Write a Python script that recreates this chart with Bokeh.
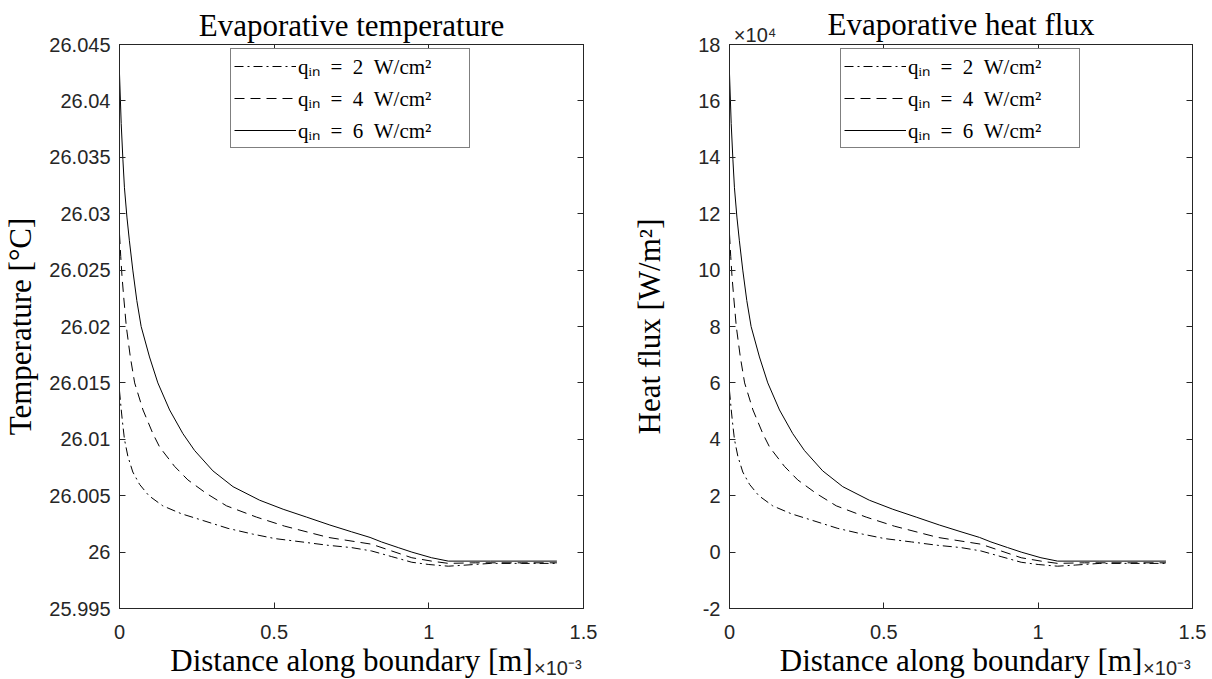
from bokeh.plotting import figure
from bokeh.layouts import row
from bokeh.models import (LinearAxis, FixedTicker, CustomJSTickFormatter, Range1d,
                          Legend, LegendItem)
from bokeh.embed import file_html
from bokeh.resources import INLINE

# ---------------- data (x in units of 1e-3 m) ----------------
series_labels = ["qᵢₙ\u2002=\u20022\u2002W/cm²",
                 "qᵢₙ\u2002=\u20024\u2002W/cm²",
                 "qᵢₙ\u2002=\u20026\u2002W/cm²"]

x_q2 = [0.0, 0.005, 0.009, 0.016, 0.027, 0.043, 0.065, 0.095, 0.14, 0.2, 0.27, 0.351, 0.43,
        0.502, 0.59, 0.675, 0.75, 0.815, 0.88, 0.945, 1.0, 1.063, 1.12, 1.2, 1.3, 1.414]
temp_q2 = [26.0143, 26.0128, 26.0117, 26.0100, 26.0085, 26.0071, 26.0060, 26.0050, 26.0041,
           26.0034, 26.0028, 26.0021, 26.0016, 26.0012, 26.0009, 26.0006, 26.0004, 26.0001,
           25.9996, 25.9991, 25.9989, 25.99875, 25.99885, 25.9990, 25.9990, 25.9990]
flux_q2 = [5.72, 5.12, 4.68, 4.00, 3.40, 2.84, 2.40, 2.00, 1.64, 1.36, 1.12, 0.84, 0.64,
           0.48, 0.36, 0.24, 0.16, 0.04, -0.16, -0.36, -0.44, -0.50, -0.46, -0.40, -0.40,
           -0.40]

x_q4 = [0.0, 0.004, 0.008, 0.013, 0.022, 0.035, 0.049, 0.076, 0.108, 0.130, 0.178, 0.221,
        0.281, 0.346, 0.443, 0.534, 0.675, 0.815, 0.88, 0.945, 1.009, 1.063, 1.15, 1.3, 1.414]
temp_q4 = [26.0282, 26.0262, 26.0245, 26.0228, 26.0200, 26.0173, 26.0150, 26.0126, 26.0105,
           26.0093, 26.0076, 26.0064, 26.0052, 26.0041, 26.0031, 26.0023, 26.0013, 26.0007,
           26.0001, 25.9995, 25.9992, 25.9990, 25.99905, 25.99905, 25.99905]
flux_q4 = [11.28, 10.48, 9.80, 9.12, 8.00, 6.92, 6.00, 5.04, 4.20, 3.72, 3.04, 2.56, 2.08,
           1.64, 1.24, 0.92, 0.52, 0.28, 0.04, -0.20, -0.32, -0.40, -0.38, -0.38, -0.38]

x_q6 = [0.0, 0.0055, 0.011, 0.016, 0.024, 0.032, 0.043, 0.056, 0.070, 0.097, 0.124, 0.162,
        0.205, 0.243, 0.302, 0.367, 0.453, 0.529, 0.605, 0.68, 0.75, 0.81, 0.847, 0.901,
        0.945, 1.009, 1.063, 1.2, 1.414]
temp_q6 = [26.0424, 26.0380, 26.0348, 26.0323, 26.0297, 26.0276, 26.0250, 26.0223, 26.0200,
           26.0173, 26.0150, 26.0126, 26.0105, 26.0090, 26.0072, 26.0058, 26.0046, 26.0038,
           26.0031, 26.0024, 26.0018, 26.0013, 26.0009, 26.0004, 26.0000, 25.9995, 25.9992,
           25.9992, 25.9992]
flux_q6 = [16.96, 15.20, 13.92, 12.92, 11.88, 11.04, 10.00, 8.92, 8.00, 6.92, 6.00, 5.04,
           4.20, 3.60, 2.88, 2.32, 1.84, 1.52, 1.24, 0.96, 0.72, 0.52, 0.36, 0.16, 0.00,
           -0.20, -0.32, -0.32, -0.32]

x_range_vals = (0.0, 1.5)
x_ticks = [0, 0.5, 1, 1.5]
temp_range = (25.995, 26.045)
temp_ticks = [25.995, 26.0, 26.005, 26.01, 26.015, 26.02, 26.025, 26.03, 26.035, 26.04, 26.045]
flux_range = (-2, 18)
flux_ticks = [-2, 0, 2, 4, 6, 8, 10, 12, 14, 16, 18]

x_exponent = "×10⁻³"
flux_exponent = "×10⁴"
x_label = "Distance along boundary [m]"

# ---------------- style ----------------
AX = "#262626"
SERIF = "Liberation Serif"
SANS = "Liberation Sans"
dashes = ["9 4 2 4", "10 6", "solid"]
fmt_code = "return Number(tick.toFixed(3)).toString();"


def style_axis(ax):
    ax.major_tick_in = 6
    ax.major_tick_out = 0
    ax.minor_tick_in = 0
    ax.minor_tick_out = 0
    ax.axis_line_color = AX
    ax.major_tick_line_color = AX
    ax.major_label_text_color = AX
    ax.major_label_text_font = SANS
    ax.major_label_text_font_size = "20px"
    ax.axis_label_text_font = SERIF
    ax.axis_label_text_font_style = "normal"
    ax.axis_label_text_font_size = "31px"
    ax.axis_label_text_color = "black"


def holder_axis(tick_pos, tick_text, label, tick_standoff, label_standoff):
    """An axis with no visible line or marks: carries an exponent note and a label."""
    code = "return %r;" % tick_text
    ax = LinearAxis(ticker=FixedTicker(ticks=tick_pos),
                    formatter=CustomJSTickFormatter(code=code))
    style_axis(ax)
    ax.axis_line_color = None
    ax.major_tick_line_color = None
    ax.minor_tick_line_color = None
    ax.major_tick_in = 0
    ax.major_label_standoff = tick_standoff
    ax.axis_label = label
    ax.axis_label_standoff = label_standoff
    return ax


def make_panel(title, ylabel, yr, yticks, ys, border_l, border_r, frame_w, ylab_standoff,
               exp_top):
    p = figure(frame_width=frame_w, frame_height=564,
               x_range=Range1d(*x_range_vals), y_range=Range1d(*yr),
               output_backend="svg", toolbar_location=None,
               min_border_left=border_l, min_border_right=border_r,
               min_border_top=44, min_border_bottom=68)
    p.xgrid.visible = False
    p.ygrid.visible = False
    p.outline_line_color = AX
    p.background_fill_color = "white"
    p.border_fill_color = "white"

    fmt = CustomJSTickFormatter(code=fmt_code)
    blank = CustomJSTickFormatter(code="return '';")

    xaxis = p.xaxis[0]
    yaxis = p.yaxis[0]
    xaxis.ticker = FixedTicker(ticks=x_ticks)
    yaxis.ticker = FixedTicker(ticks=yticks)
    xaxis.formatter = fmt
    yaxis.formatter = fmt
    yaxis.axis_label = ylabel
    style_axis(xaxis)
    style_axis(yaxis)
    xaxis.major_label_standoff = 16
    yaxis.major_label_standoff = 9
    yaxis.axis_label_standoff = ylab_standoff

    # box ticks on top and right
    top = LinearAxis(ticker=FixedTicker(ticks=x_ticks), formatter=blank)
    right = LinearAxis(ticker=FixedTicker(ticks=yticks), formatter=blank)
    style_axis(top)
    style_axis(right)
    top.major_label_standoff = 0
    right.major_label_standoff = 0
    p.add_layout(top, "above")
    p.add_layout(right, "right")

    # x label line: "Distance along boundary [m]" with the x10^-3 note at the right end
    p.add_layout(holder_axis([1.417], x_exponent, x_label, 15, -39), "below")

    # title line (with the x10^4 note at the top-left for the flux panel)
    if exp_top:
        p.add_layout(holder_axis([0.083], flux_exponent, title, -1, -21), "above")
    else:
        p.add_layout(holder_axis([], "", title, 0, 2), "above")

    renderers = []
    xs = [x_q2, x_q4, x_q6]
    for xv, yv, d in zip(xs, ys, dashes):
        r = p.line(xv, yv, line_color="black", line_width=1, line_dash=d)
        renderers.append(r)

    legend = Legend(items=[LegendItem(label=l, renderers=[r])
                           for l, r in zip(series_labels, renderers)],
                    location=(111, 460))
    legend.border_line_color = "black"
    legend.border_line_width = 1
    legend.background_fill_alpha = 1
    legend.label_text_font = SERIF
    legend.label_text_font_size = "21px"
    legend.label_text_color = "black"
    legend.label_text_line_height = 1.0
    legend.glyph_width = 62
    legend.glyph_height = 26
    legend.label_height = 26
    legend.label_width = 168
    legend.label_standoff = 2
    legend.spacing = 4
    legend.padding = 3
    legend.margin = 0
    p.add_layout(legend)
    return p


p1 = make_panel("Evaporative temperature", "Temperature [°C]", temp_range, temp_ticks,
                [temp_q2, temp_q4, temp_q6], 118, 26, 464, 8, False)
p2 = make_panel("Evaporative heat flux", "Heat flux [W/m²]", flux_range, flux_ticks,
                [flux_q2, flux_q4, flux_q6], 120, 17, 463, 28, True)

layout = row(p1, p2)
open("out.html", "w").write(file_html(layout, INLINE))
